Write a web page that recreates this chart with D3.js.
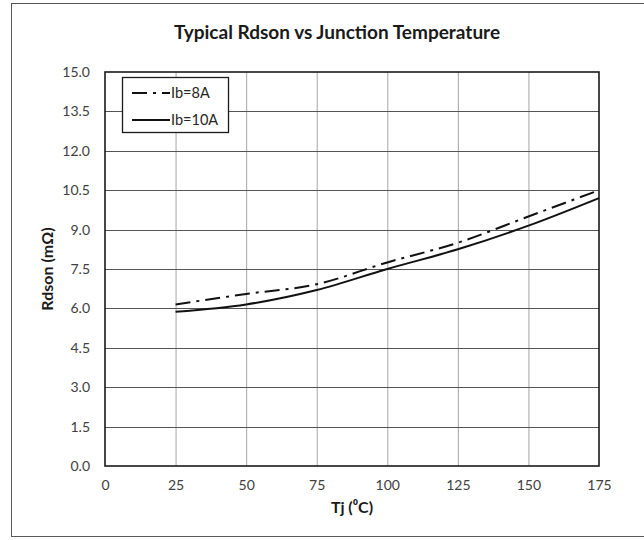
<!DOCTYPE html>
<html>
<head>
<meta charset="utf-8">
<script src="https://cdn.jsdelivr.net/npm/d3@7"></script>
<style>
  body { margin: 0; background: #fff; }
  text { font-family: Lato, "Open Sans", sans-serif; }
</style>
</head>
<body>
<div id="chart"></div>
<script>
// Data
//
var temps      = [25, 50, 75, 100, 125, 150, 175];
var rdson_8A   = [6.15, 6.55, 6.92, 7.75, 8.5, 9.5, 10.5];
var rdson_10A  = [5.87, 6.15, 6.7, 7.5, 8.25, 9.15, 10.2];
var seriesNames = ['Ib=8A', 'Ib=10A'];
var xTicks     = [0, 25, 50, 75, 100, 125, 150, 175];
var yTicks     = [0, 1.5, 3, 4.5, 6, 7.5, 9, 10.5, 12, 13.5, 15];

// Set globals
//
var svg_width  = 644;
var svg_height = 540;

var x_box_min = 105;
var x_box_max = 599;
var y_box_min = 72;
var y_box_max = 466;

var svg = d3.select("#chart").append("svg")
    .attr('width', svg_width)
    .attr('height', svg_height);

// Outer frame
//
svg.append("rect")
    .attr('x', 11.5)
    .attr('y', 3.5)
    .attr('width', 650)
    .attr('height', 533)
    .attr('fill', 'white')
    .attr('stroke', '#595959')
    .attr('stroke-width', 1);

// Scales
//
var x = d3.scaleLinear().domain([0, 175]).range([x_box_min, x_box_max]);
var y = d3.scaleLinear().domain([0, 15]).range([y_box_max, y_box_min]);

// Grid lines
//
svg.append("g")
    .selectAll("line")
    .data(xTicks.slice(1, -1))
    .join("line")
    .attr('x1', d => x(d) + 0.5)
    .attr('x2', d => x(d) + 0.5)
    .attr('y1', y_box_min)
    .attr('y2', y_box_max)
    .attr('stroke', '#a6a6a6')
    .attr('stroke-width', 1);

svg.append("g")
    .selectAll("line")
    .data(yTicks.slice(1, -1))
    .join("line")
    .attr('x1', x_box_min)
    .attr('x2', x_box_max)
    .attr('y1', d => Math.round(y(d)) + 0.5)
    .attr('y2', d => Math.round(y(d)) + 0.5)
    .attr('stroke', '#555')
    .attr('stroke-width', 1);

// Axes (labels only)
//
var xAxis = d3.axisBottom(x).tickValues(xTicks).tickSize(0).tickPadding(14);
var gx = svg.append("g")
    .attr('transform', `translate(0,${y_box_max})`)
    .call(xAxis);
gx.select(".domain").remove();
gx.selectAll("text")
    .style("font-family", "Lato, sans-serif")
    .style("font-size", "14px")
    .attr('fill', '#404040');

var yAxis = d3.axisLeft(y).tickValues(yTicks).tickSize(0).tickPadding(15)
    .tickFormat(d3.format(".1f"));
var gy = svg.append("g")
    .attr('transform', `translate(${x_box_min},0)`)
    .call(yAxis);
gy.select(".domain").remove();
gy.selectAll("text")
    .style("font-family", "Lato, sans-serif")
    .style("font-size", "14px")
    .attr('fill', '#404040');

// Plot border
//
svg.append("rect")
    .attr('x', x_box_min)
    .attr('y', y_box_min)
    .attr('width', x_box_max - x_box_min)
    .attr('height', y_box_max - y_box_min)
    .attr('fill', 'none')
    .attr('stroke', '#1a1a1a')
    .attr('stroke-width', 1.6);

// Curves
//
var line = d3.line()
    .x(d => x(d[0]))
    .y(d => y(d[1]))
    .curve(d3.curveMonotoneX);

var dashStyle = '15,6,3,6';

svg.append("path")
    .datum(temps.map((t, i) => [t, rdson_8A[i]]))
    .attr('d', line)
    .attr('fill', 'none')
    .attr('stroke', '#111')
    .attr('stroke-width', 2)
    .attr('stroke-dasharray', dashStyle);

svg.append("path")
    .datum(temps.map((t, i) => [t, rdson_10A[i]]))
    .attr('d', line)
    .attr('fill', 'none')
    .attr('stroke', '#111')
    .attr('stroke-width', 2);

// Legend
//
var legend = svg.append("g");
legend.append("rect")
    .attr('x', 122.5)
    .attr('y', 77.5)
    .attr('width', 106)
    .attr('height', 55)
    .attr('fill', 'white')
    .attr('stroke', '#1a1a1a')
    .attr('stroke-width', 1.3);

seriesNames.forEach(function(name, i) {
    let ly = 93 + i * 27;
    legend.append("line")
        .attr('x1', 132)
        .attr('x2', 170)
        .attr('y1', ly)
        .attr('y2', ly)
        .attr('stroke', '#111')
        .attr('stroke-width', 2)
        .attr('stroke-dasharray', i === 0 ? dashStyle : null);
    legend.append("text")
        .attr('x', 171)
        .attr('y', ly + 5)
        .style("font-size", "14.5px")
        .attr('fill', '#262626')
        .text(name);
});

// Titles
//
svg.append("text")
    .attr('x', 337)
    .attr('y', 39)
    .style("text-anchor", "middle")
    .style("font-size", "19px")
    .style("font-weight", "700")
    .attr('fill', '#1a1a1a')
    .text('Typical Rdson vs Junction Temperature');

svg.append("text")
    .attr('x', (x_box_min + x_box_max) / 2)
    .attr('y', 513)
    .style("text-anchor", "middle")
    .style("font-size", "16px")
    .style("font-weight", "700")
    .attr('fill', '#1a1a1a')
    .text('Tj (\u2070C)');

svg.append("text")
    .attr('transform', `translate(53,${(y_box_min + y_box_max) / 2}) rotate(-90)`)
    .style("text-anchor", "middle")
    .style("font-size", "16px")
    .style("font-weight", "700")
    .attr('fill', '#1a1a1a')
    .text('Rdson (m\u03A9)');
</script>
</body>
</html>
